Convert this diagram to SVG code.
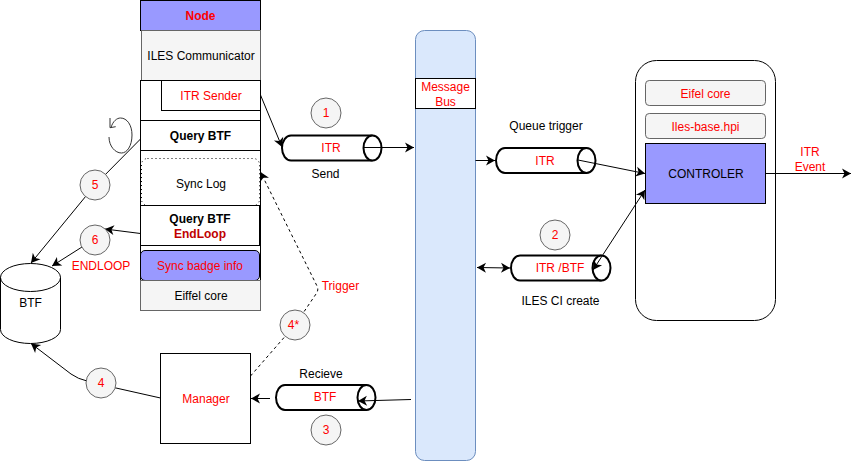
<svg xmlns="http://www.w3.org/2000/svg" width="859" height="461" viewBox="0 0 859 461">
<style>
text{font-family:"Liberation Sans",Arial,sans-serif;font-size:12px;text-anchor:middle;fill:#000}
.r{fill:#f00}
.b{font-weight:bold}
.dr{fill:#c00000}
.box{fill:#fff;stroke:#000;stroke-width:1}
.grey{fill:#f5f5f5;stroke:#666;stroke-width:1}
.blue{fill:#9999ff;stroke:#000;stroke-width:1}
.cyl{fill:#fff;stroke:#000;stroke-width:2}
.num{fill:#f5f5f5;stroke:#666;stroke-width:1}
.e{fill:none;stroke:#000;stroke-width:1}
.a{marker-end:url(#ah)}
.s{marker-start:url(#ahs)}
.d{stroke-dasharray:3 3}
</style>
<defs>
<marker id="ah" markerUnits="userSpaceOnUse" markerWidth="14" markerHeight="12" refX="9" refY="5" orient="auto" overflow="visible"><path d="M0 0L9 5L0 10L2.5 5Z" fill="#000"/></marker>
<marker id="ahs" markerUnits="userSpaceOnUse" markerWidth="14" markerHeight="12" refX="0" refY="5" orient="auto" overflow="visible"><path d="M9 0L0 5L9 10L6.5 5Z" fill="#000"/></marker>
</defs>
<g id="node-column">
<rect class="blue" x="140.5" y="0.5" width="120" height="30"/>
<text class="r b" x="200.5" y="20">Node</text>
<rect class="grey" x="141.5" y="30.5" width="119" height="50"/>
<text x="201" y="60">ILES Communicator</text>
<rect class="box" x="140.5" y="80.5" width="120" height="40"/>
<rect class="box" x="161.5" y="80.5" width="99" height="30"/>
<text class="r" x="211" y="100">ITR Sender</text>
<rect class="box" x="140.5" y="120.5" width="120" height="30"/>
<text class="b" x="200.5" y="140">Query BTF</text>
<rect class="box" x="140.5" y="150.5" width="120" height="130"/>
<rect x="141.5" y="158.5" width="118" height="47" rx="6" fill="#fff" stroke="#000" stroke-dasharray="1 3"/>
<text x="201" y="188">Sync Log</text>
<rect class="box" x="140.5" y="205.5" width="119" height="40"/>
<text class="b" x="200" y="223">Query BTF</text>
<text class="b dr" x="200" y="238">EndLoop</text>
<rect x="140.5" y="250.5" width="119" height="30" rx="4.5" class="blue"/>
<text class="r" x="200" y="270">Sync badge info</text>
<rect class="grey" x="140.5" y="280.5" width="120" height="30"/>
<text x="201" y="300">Eiffel core</text>
</g>
<g id="node-bus">
<rect x="415.5" y="30.5" width="60" height="430" rx="9" fill="#dae8fc" stroke="#6c8ebf"/>
<rect class="box" x="415.5" y="78.5" width="60" height="30"/>
<text class="r" x="445.5" y="91">Message</text>
<text class="r" x="445.5" y="106">Bus</text>
</g>
<g id="node-controller">
<rect class="box" x="635.5" y="60.5" width="140" height="260" rx="21"/>
<rect class="grey" x="645.5" y="80.5" width="120" height="25" rx="3.75"/>
<text class="r" x="705.5" y="98">Eifel core</text>
<rect class="grey" x="645.5" y="113.5" width="120" height="25" rx="3.75"/>
<text class="r" x="705.5" y="131">Iles-base.hpi</text>
<rect class="blue" x="645.5" y="143.5" width="120" height="60"/>
<text x="706" y="178">CONTROLER</text>
</g>
<g id="node-btf-store">
<path class="box" d="M0.5 277.500A30 14 0 0 1 60.500 277.500V329.500A30 14 0 0 1 0.500 329.500Z"/>
<path class="e" d="M0.500 277.500A30 14 0 0 0 60.500 277.500"/>
<text x="30.500" y="307">BTF</text>
</g>
<g id="node-manager">
<rect class="box" x="160.5" y="353.5" width="90" height="90"/>
<text class="r" x="206" y="403">Manager</text>
</g>
<g id="cyl-itr-send">
<path class="cyl" d="M372.500 135.500H291A9 12.500 0 0 0 291 160.500H372.500"/>
<ellipse class="cyl" cx="372.500" cy="148" rx="9" ry="12.500"/>
<text class="r" x="331" y="152">ITR</text>
<text x="325.500" y="178">Send</text>
</g>
<g id="cyl-itr-queue">
<path class="cyl" d="M586.500 148H505A9 12.500 0 0 0 505 173H586.500"/>
<ellipse class="cyl" cx="586.500" cy="160.500" rx="9" ry="12.500"/>
<text class="r" x="545" y="165">ITR</text>
<text x="546" y="130">Queue trigger</text>
</g>
<g id="cyl-itr-btf">
<path class="cyl" d="M601.500 255.500H520A9 12.500 0 0 0 520 280.500H601.500"/>
<ellipse class="cyl" cx="601.500" cy="268" rx="9" ry="12.500"/>
<text class="r" x="560" y="272">ITR /BTF</text>
<text x="560.500" y="305">ILES CI create</text>
</g>
<g id="cyl-btf">
<path class="cyl" d="M366.500 385H285A9 12.500 0 0 0 285 410H366.500"/>
<ellipse class="cyl" cx="366.500" cy="397.500" rx="9" ry="12.500"/>
<text class="r" x="325" y="401">BTF</text>
<text x="321" y="378">Recieve</text>
</g>
<g id="connectors">
<path class="e a" d="M260.500 95L282 147"/>
<path class="e a" d="M364 147.500H414"/>
<path class="e a" d="M475.500 160.500H495"/>
<path class="e a" d="M578 160L645 173.500"/>
<path class="e a s" d="M593 270L645 190"/>
<path class="e a s" d="M477 267.500L510 268"/>
<path class="e a" d="M411 399.500L358 401"/>
<path class="e a" d="M270 398.500H251"/>
<path class="e a" d="M160.500 398L116 388L87 381Q78 379 71 374L31 343.500"/>
<path class="e a" d="M140.500 139L95 185L31 263"/>
<path class="e a" d="M140.500 233.500L105 229"/>
<path class="e a" d="M82 247L52 266"/>
<path class="e d a" d="M250.500 376L295 325L316 294Q319 290 317 286L260.500 172"/>
<path class="e a" d="M765.500 173.500H851"/>
<path fill="none" stroke="#333" d="M111 127.500C113 121 117 118 120.500 118C127 118 132 125 132 135C132 146 127 153 121.500 153C115 153 109 146 109 137"/>
<path fill="none" stroke="#333" d="M110 118V127.700L115.700 126.700"/>
</g>
<g id="n1"><circle class="num" cx="326" cy="113" r="15"/><text class="r" x="326" y="117">1</text></g>
<g id="n2"><circle class="num" cx="555" cy="235" r="15"/><text class="r" x="555" y="239">2</text></g>
<g id="n3"><circle class="num" cx="326" cy="430" r="15"/><text class="r" x="326" y="434">3</text></g>
<g id="n4"><circle class="num" cx="101" cy="383" r="15"/><text class="r" x="101" y="387">4</text></g>
<g id="n4s"><circle class="num" cx="295" cy="325" r="15"/><text class="r" x="293.500" y="329">4*</text></g>
<g id="n5"><circle class="num" cx="95" cy="185" r="15"/><text class="r" x="95" y="189">5</text></g>
<g id="n6"><circle class="num" cx="95" cy="240" r="15"/><text class="r" x="95" y="244">6</text></g>
<g id="labels">
<text class="r" x="101" y="270">ENDLOOP</text>
<text class="r" x="340.500" y="290">Trigger</text>
<text class="r" x="810" y="156">ITR</text>
<text class="r" x="810" y="171">Event</text>
</g>
</svg>
